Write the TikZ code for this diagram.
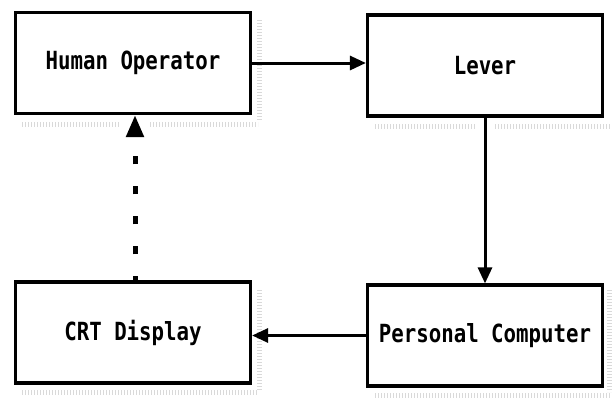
\documentclass[tikz,border=0pt]{standalone}
\usepackage{fontspec}
\setmonofont[FakeStretch=0.83,BoldFont={DejaVu Sans Mono Bold}]{DejaVu Sans Mono}
\usetikzlibrary{arrows.meta}
\tikzset{
  blk/.style={draw=black, line width=3.2pt, minimum width=235pt, minimum height=101pt, inner sep=0pt, font=\ttfamily\bfseries\fontsize{25}{25}\selectfont},
  conn/.style={line width=3pt, -{Triangle[length=16pt,width=14pt]}},
  fb/.style={line width=5pt, dash pattern=on 8pt off 22pt, dash phase=4pt, -{Triangle[length=22pt,width=17pt]}},
  shade/.style={gray!30, line width=5pt, dash pattern=on 1pt off 2pt}
}
\begin{document}
\begin{tikzpicture}[x=1pt,y=-1pt]
\useasboundingbox (0,0) rectangle (614,407);
% faint shadows
\draw[shade] (22,124) -- (120,124);
\draw[shade] (150,124) -- (258,124);
\draw[shade] (259,20) -- (259,120);
\draw[shade] (375,126) -- (475,126);
\draw[shade] (495,126) -- (610,126);
\draw[shade] (22,392) -- (258,392);
\draw[shade] (259,290) -- (259,390);
\draw[shade] (375,395) -- (610,395);
\draw[shade] (609,290) -- (609,392);
% boxes
\node[blk] (ho) at (133,63) {Human Operator};
\node[blk] (lv) at (485,65.5) {Lever};
\node[blk] (pc) at (485,335.5) {Personal Computer};
\node[blk] (crt) at (133,332.5) {CRT Display};
% connectors
\draw[conn] (ho.east) -- (lv.west |- ho.east);
\draw[conn] (lv.south) -- (pc.north);
\draw[conn] (pc.west) -- (crt.east |- pc.west);
\draw[fb] ([xshift=2pt]crt.north) -- ([xshift=2pt]ho.south);
\end{tikzpicture}
\end{document}
